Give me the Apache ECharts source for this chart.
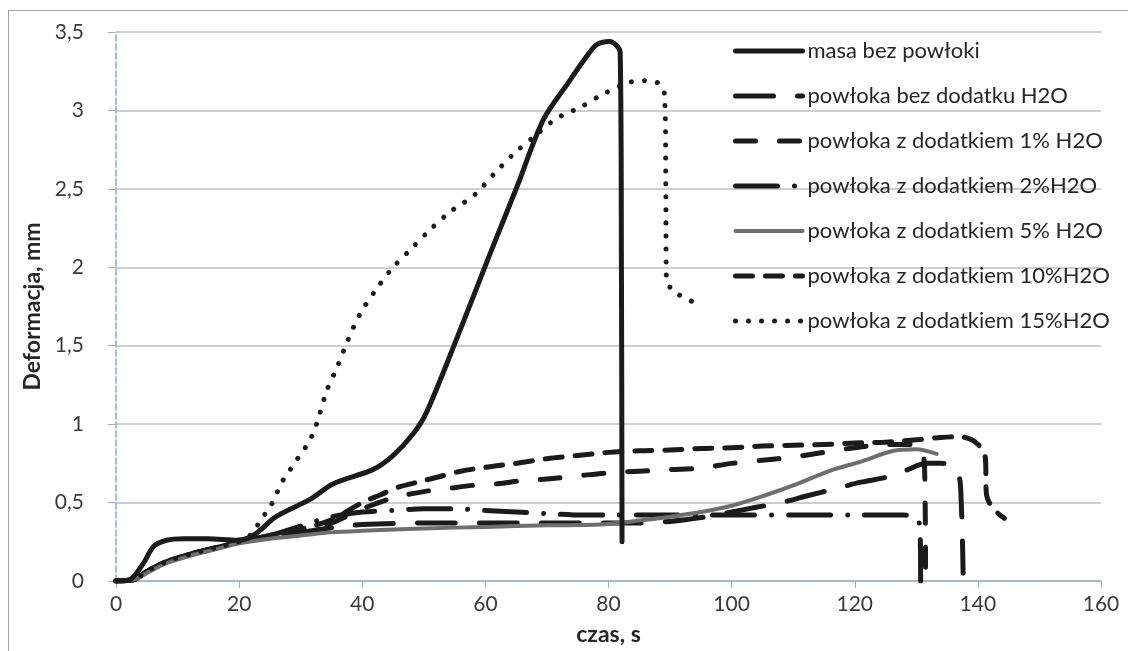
<!DOCTYPE html>
<html>
<head>
<meta charset="utf-8">
<script src="https://cdn.jsdelivr.net/npm/echarts@6/dist/echarts.min.js"></script>
<style>
  html, body { margin: 0; padding: 0; background: #fff; }
  #frame {
    position: absolute; left: 8px; top: 10px; right: 0; bottom: 0;
    border-top: 1px solid #a0a0a0; border-left: 1px solid #a0a0a0;
  }
  #chart { position: absolute; left: 0; top: 0; width: 1128px; height: 651px; }
</style>
</head>
<body>
<div id="frame"></div>
<div id="chart"></div>
<script>
// osie
const xTicks = { min: 0, max: 160, interval: 20 }
const yTicks = { min: 0, max: 3.5, interval: 0.5 }

// masa bez powłoki
const masaX = [0, 2.3, 4.4, 6.1, 8.2, 11, 15, 19.6, 22.3, 26, 31.5, 35.3, 41.7, 45, 48.3, 50.5, 55.3, 60.8, 65.1, 69.4, 73.7, 76, 78.1, 80.2, 81.9, 82.1, 82.2]
const masaY = [0, 0.01, 0.11, 0.22, 0.26, 0.27, 0.27, 0.26, 0.29, 0.41, 0.52, 0.62, 0.71, 0.8, 0.94, 1.08, 1.54, 2.09, 2.51, 2.94, 3.19, 3.32, 3.42, 3.44, 3.37, 2.0, 0.25]

// powłoka bez dodatku H2O
const bezX = [0, 3, 5, 8, 12, 16, 20, 25, 30, 35, 40, 50, 60, 70, 80, 85, 90, 96, 100, 104, 108, 112, 117, 121, 125, 128, 131.7, 134, 136, 137, 137.3, 137.5, 137.6]
const bezY = [0, 0.01, 0.06, 0.12, 0.17, 0.21, 0.25, 0.28, 0.31, 0.34, 0.36, 0.37, 0.37, 0.37, 0.37, 0.37, 0.38, 0.41, 0.44, 0.47, 0.5, 0.54, 0.59, 0.63, 0.66, 0.7, 0.75, 0.75, 0.73, 0.66, 0.5, 0.25, 0.05]

// 1% H2O
const p1X = [0, 3, 5, 8, 12, 16, 20, 25, 30, 35, 40, 45, 50, 54, 58, 62, 66, 70, 75, 80, 85, 90, 95, 100, 105, 110, 115, 120, 125, 129, 131, 131.4, 131.5]
const p1Y = [0, 0.01, 0.06, 0.12, 0.17, 0.21, 0.25, 0.28, 0.31, 0.37, 0.46, 0.53, 0.57, 0.59, 0.61, 0.62, 0.64, 0.65, 0.67, 0.69, 0.7, 0.71, 0.72, 0.75, 0.77, 0.79, 0.82, 0.85, 0.87, 0.87, 0.84, 0.6, 0]

// 2% H2O
const p2X = [0, 3, 5, 8, 12, 16, 20, 25, 30, 35, 40, 45, 50, 55, 60, 65, 70, 76, 80, 90, 100, 110, 120, 128, 130, 130.6, 130.7]
const p2Y = [0, 0.01, 0.06, 0.12, 0.17, 0.21, 0.25, 0.29, 0.35, 0.41, 0.44, 0.45, 0.46, 0.46, 0.45, 0.44, 0.43, 0.42, 0.42, 0.42, 0.42, 0.42, 0.42, 0.42, 0.41, 0.33, 0]

// 5% H2O
const p5X = [0, 3, 5, 8, 12, 16, 20, 25, 30, 35, 40, 50, 60, 70, 78.6, 85, 90, 95, 100, 105.7, 110, 116.5, 120.9, 126.3, 130, 133.3]
const p5Y = [0, 0.01, 0.05, 0.11, 0.16, 0.2, 0.24, 0.27, 0.29, 0.31, 0.32, 0.335, 0.345, 0.355, 0.36, 0.385, 0.41, 0.44, 0.48, 0.55, 0.61, 0.71, 0.76, 0.83, 0.84, 0.81]

// 10% H2O
const p10X = [0, 3, 5, 8, 12, 16, 20, 25, 30, 35, 40, 43, 46, 49, 52, 56, 61, 65, 70, 75, 80, 85, 90, 95, 100, 105, 110, 115, 120, 125, 130, 134, 137, 139, 140.5, 141.2, 141.4, 142.5, 144.3]
const p10Y = [0, 0.01, 0.06, 0.12, 0.17, 0.21, 0.25, 0.29, 0.33, 0.39, 0.5, 0.55, 0.6, 0.63, 0.66, 0.7, 0.73, 0.75, 0.78, 0.8, 0.82, 0.83, 0.835, 0.845, 0.85, 0.86, 0.865, 0.87, 0.88, 0.885, 0.9, 0.915, 0.92, 0.9, 0.85, 0.79, 0.55, 0.46, 0.4]

// 15% H2O
const p15X = [0, 3, 5, 8, 12, 16, 20, 22, 23.7, 25, 26, 27.1, 28.3, 29.5, 30.9, 32, 32.9, 34.2, 36, 37.6, 39.6, 42.1, 44.8, 48, 51.3, 54.5, 58.2, 61.3, 64.5, 68.1, 71.6, 75.4, 79.4, 83.5, 85.9, 88.3, 89.1, 89.3, 89.4, 90.8, 92.8, 94.8]
const p15Y = [0, 0.01, 0.06, 0.12, 0.17, 0.21, 0.25, 0.3, 0.4, 0.47, 0.55, 0.64, 0.71, 0.78, 0.86, 0.94, 1.04, 1.21, 1.37, 1.53, 1.7, 1.85, 1.99, 2.12, 2.25, 2.36, 2.46, 2.59, 2.72, 2.84, 2.95, 3.02, 3.11, 3.18, 3.19, 3.17, 3.1, 2.6, 1.92, 1.84, 1.8, 1.75]

const legendNames = [
  'masa bez powłoki',
  'powłoka bez dodatku H2O',
  'powłoka z dodatkiem 1% H2O',
  'powłoka z dodatkiem 2%H2O',
  'powłoka z dodatkiem 5% H2O',
  'powłoka z dodatkiem 10%H2O',
  'powłoka z dodatkiem 15%H2O'
]

const FONT = 'Lato, "Open Sans", sans-serif'
const BLACK = '#1b1b1b'

const zip = (xs, ys) => xs.map((x, i) => [x, ys[i]])

const mkSeries = (name, xs, ys, color, width, dash, z) => ({
  name: name,
  type: 'line',
  data: zip(xs, ys),
  smooth: 0.3,
  showSymbol: false,
  symbol: 'none',
  z: z,
  lineStyle: { color: color, width: width, type: dash, cap: 'round', join: 'round' },
  itemStyle: { color: color }
})

const chart = echarts.init(document.getElementById('chart'))

chart.setOption({
  animation: false,
  grid: { left: 116, right: 27, top: 32, bottom: 70 },
  legend: {
    data: legendNames,
    orient: 'vertical',
    left: 728,
    top: 34,
    itemWidth: 67,
    itemHeight: 14,
    itemGap: 21,
    itemStyle: { opacity: 0 },
    lineStyle: { width: 'inherit' },
    textStyle: { fontFamily: FONT, fontSize: 22, color: '#262626', lineHeight: 24 }
  },
  xAxis: [
    {
      type: 'value',
      min: xTicks.min, max: xTicks.max, interval: xTicks.interval,
      name: 'czas, s',
      nameLocation: 'middle',
      nameGap: 42,
      nameTextStyle: { fontFamily: FONT, fontSize: 23, fontWeight: 'bold', color: '#262626' },
      axisLine: { lineStyle: { color: '#a9acb8', width: 1.5 } },
      axisTick: { show: true, length: 7, lineStyle: { color: '#a9acb8' } },
      axisLabel: { fontFamily: FONT, fontSize: 21, color: '#3a3a3a', margin: 13 },
      splitLine: { show: false }
    },
    {
      type: 'value', position: 'top',
      min: xTicks.min, max: xTicks.max,
      axisLine: { show: true, lineStyle: { color: '#9dbde6', width: 1.5, type: 'dashed' } },
      axisTick: { show: false }, axisLabel: { show: false }, splitLine: { show: false }
    }
  ],
  yAxis: [
    {
      type: 'value',
      min: yTicks.min, max: yTicks.max, interval: yTicks.interval,
      name: 'Deformacja, mm',
      nameLocation: 'middle',
      nameGap: 51,
      nameTextStyle: { fontFamily: FONT, fontSize: 23, fontWeight: 'bold', color: '#262626' },
      axisLine: { show: true, lineStyle: { color: '#9dbde6', width: 1.5, type: 'dashed' } },
      axisTick: { show: true, length: 8, lineStyle: { color: '#a9acb8' } },
      axisLabel: {
        fontFamily: FONT, fontSize: 21, color: '#3a3a3a', margin: 32,
        formatter: v => String(v).replace('.', ',')
      },
      splitLine: { lineStyle: { color: '#bdbdc6', width: 1.5 } }
    },
    {
      type: 'value', position: 'right',
      min: yTicks.min, max: yTicks.max,
      axisLine: { show: true, lineStyle: { color: '#9dbde6', width: 1.5, type: 'dashed' } },
      axisTick: { show: false }, axisLabel: { show: false }, splitLine: { show: false }
    }
  ],
  series: [
    mkSeries(legendNames[1], bezX, bezY, BLACK, 5, [38, 24], 2),
    mkSeries(legendNames[2], p1X, p1Y, BLACK, 5, [20, 24], 2),
    mkSeries(legendNames[3], p2X, p2Y, BLACK, 5, [42, 17, 0.01, 17], 2),
    mkSeries(legendNames[5], p10X, p10Y, BLACK, 5, [17, 13], 2),
    mkSeries(legendNames[4], p5X, p5Y, '#6e6e6e', 4, 'solid', 3),
    mkSeries(legendNames[6], p15X, p15Y, BLACK, 5, [0.01, 13], 4),
    mkSeries(legendNames[0], masaX, masaY, BLACK, 5, 'solid', 5)
  ]
})
</script>
</body>
</html>
